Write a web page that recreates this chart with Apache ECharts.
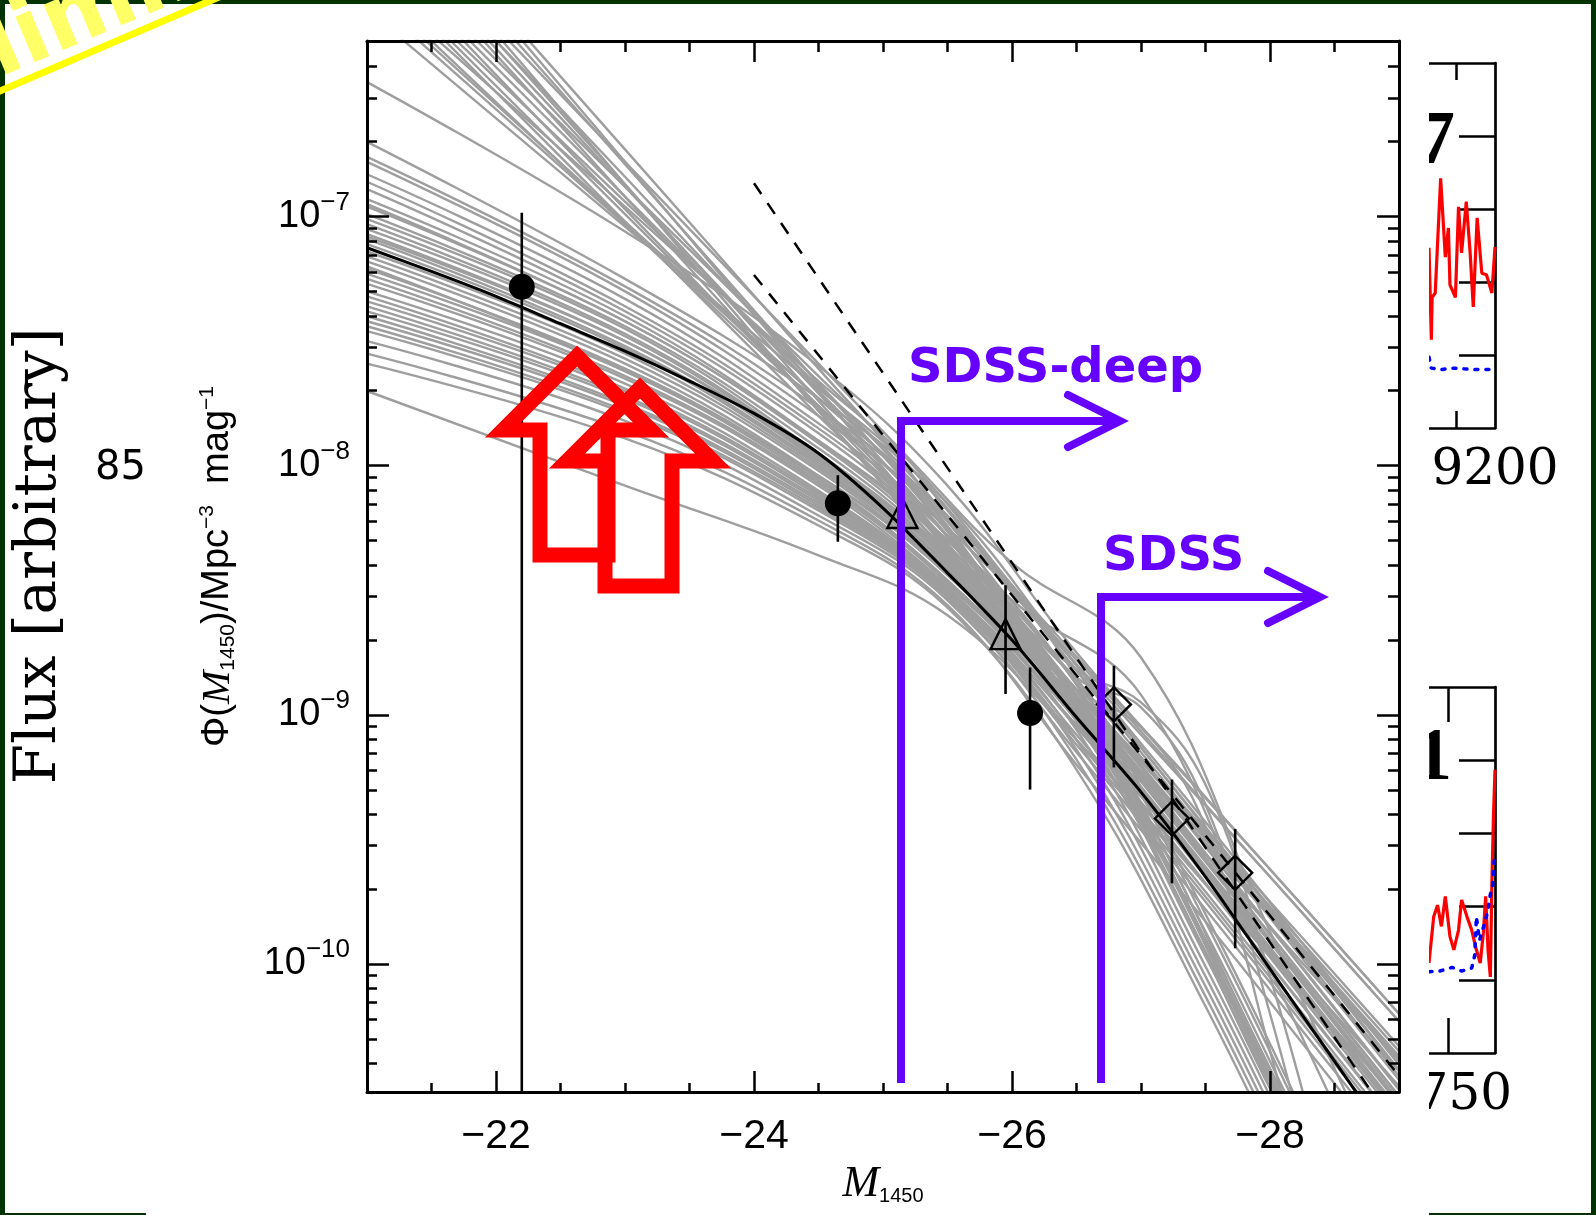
<!DOCTYPE html>
<html><head><meta charset="utf-8">
<script src="https://cdn.jsdelivr.net/npm/echarts@6/dist/echarts.min.js"></script>
<style>html,body{margin:0;padding:0;background:#fff}#c{width:1596px;height:1215px}</style>
</head><body><div id="c"></div>
<script>
// ---------------- DATA (y values are log10 of Phi) ----------------
const X_MIN = -29, X_MAX = -21;
const Y_MIN = -10.514, Y_MAX = -6.295;
const xMajorTicks = [-28, -26, -24, -22];
const xMinorTicks = [-28.5, -27.5, -27, -26.5, -25.5, -25, -24.5, -23.5, -23, -22.5, -21.5];
const yMajorTicks = [-10, -9, -8, -7];

// best fit (solid black)
const bestFitMag = [-21, -21.5, -22, -22.5, -23, -23.5, -24, -24.5, -25, -25.5, -26, -26.5, -27, -27.5, -28, -28.5, -29];
const bestFitLogPhi = [-7.125, -7.22, -7.32, -7.43, -7.54, -7.66, -7.79, -7.95, -8.17, -8.43, -8.70, -9.01, -9.31, -9.65, -10.02, -10.39, -10.76];

// dashed lines
const dashedMag = [-24.0, -29.0];
const dashedSteepLogPhi = [-6.866, -10.676];
const dashedShallowLogPhi = [-7.234, -10.449];

// grey model curves: steep faint-end family
const upperMagGrid = [-21, -23, -24.5, -25.2, -26, -27, -28, -29];
const upperCurves = [
  [-6.17, -7.04, -7.69, -8.00, -8.48, -9.05, -9.62, -10.20],
  [-6.11, -7.03, -7.73, -8.05, -8.55, -9.20, -9.85, -10.50],
  [-6.05, -7.03, -7.76, -8.10, -8.65, -9.45, -10.50, -11.50],
  [-6.04, -6.96, -7.66, -7.98, -8.48, -9.13, -9.78, -10.43],
  [-5.96, -6.99, -7.76, -8.12, -8.54, -8.92, -10.02, -11.12],
  [-5.95, -6.94, -7.68, -8.03, -8.51, -9.08, -9.65, -10.23],
  [-5.89, -6.97, -7.77, -8.15, -8.65, -9.30, -9.95, -10.60],
  [-5.88, -6.92, -7.70, -8.07, -8.62, -9.42, -10.47, -11.47],
  [-5.86, -6.88, -7.64, -8.00, -8.50, -9.15, -9.80, -10.45],
  [-5.78, -6.92, -7.78, -8.18, -8.66, -9.23, -9.80, -10.38],
  [-5.77, -6.88, -7.71, -8.10, -8.60, -9.25, -9.90, -10.55],
  [-5.75, -6.84, -7.67, -8.05, -8.60, -9.40, -10.45, -11.45],
  [-5.66, -6.87, -7.78, -8.20, -8.70, -9.35, -10.00, -10.65],
  [-5.70, -6.78, -7.59, -7.97, -8.39, -8.77, -9.87, -10.97],
  [-5.62, -6.79, -7.67, -8.08, -8.58, -9.23, -9.88, -10.53],
  [-5.56, -6.78, -7.70, -8.13, -8.61, -9.18, -9.75, -10.33],
  [-5.56, -6.73, -7.61, -8.02, -8.57, -9.37, -10.42, -11.42],
  [-5.98, -7.02, -7.80, -8.16, -8.66, -9.31, -9.96, -10.61],
  [-6.08, -7.02, -7.73, -8.06, -8.61, -9.41, -10.46, -11.46],
  [-5.72, -6.87, -7.74, -8.14, -8.64, -9.29, -9.94, -10.59]
];
// grey model curves: shallow faint-end family (start on the left edge)
const lowerMagGrid = [-21, -23, -24.5, -25.5, -26.5, -27.5, -28.5, -29.5];
const lowerCurves = [
  [-6.46, -7.06, -7.60, -8.08, -8.75, -9.33, -9.91, -10.49],
  [-6.70, -7.25, -7.73, -8.15, -8.80, -9.43, -10.08, -10.73],
  [-6.76, -7.28, -7.77, -8.20, -8.85, -9.80, -10.85, -11.85],
  [-6.78, -7.30, -7.80, -8.22, -8.82, -9.45, -10.10, -10.75],
  [-6.83, -7.33, -7.83, -8.25, -8.78, -9.36, -9.94, -10.52],
  [-6.86, -7.36, -7.85, -8.28, -8.88, -9.83, -10.88, -11.88],
  [-6.89, -7.38, -7.87, -8.30, -8.86, -9.49, -10.14, -10.79],
  [-6.93, -7.40, -7.90, -8.32, -8.90, -9.53, -10.18, -10.83],
  [-6.96, -7.42, -7.91, -8.34, -8.92, -9.87, -10.92, -11.92],
  [-6.99, -7.44, -7.93, -8.35, -8.90, -9.48, -10.06, -10.64],
  [-7.01, -7.45, -7.95, -8.36, -8.93, -9.56, -10.21, -10.86],
  [-7.03, -7.47, -7.96, -8.37, -8.95, -9.90, -10.95, -11.95],
  [-7.05, -7.48, -7.97, -8.38, -8.95, -9.58, -10.23, -10.88],
  [-7.07, -7.50, -7.98, -8.39, -8.92, -9.50, -10.08, -10.66],
  [-7.09, -7.52, -7.99, -8.40, -8.97, -9.92, -10.97, -11.97],
  [-7.11, -7.53, -8.00, -8.41, -8.96, -9.59, -10.24, -10.89],
  [-7.14, -7.55, -8.01, -8.42, -8.98, -9.61, -10.26, -10.91],
  [-7.16, -7.57, -8.02, -8.43, -8.94, -9.52, -10.10, -10.68],
  [-7.18, -7.59, -8.04, -8.44, -9.00, -9.95, -11.00, -12.00],
  [-7.21, -7.61, -8.05, -8.46, -9.00, -9.63, -10.28, -10.93],
  [-7.23, -7.62, -8.06, -8.46, -9.02, -9.97, -11.02, -12.02],
  [-7.25, -7.64, -8.07, -8.47, -9.02, -9.65, -10.30, -10.95],
  [-7.27, -7.65, -8.08, -8.48, -8.98, -9.56, -10.14, -10.72],
  [-7.30, -7.67, -8.10, -8.49, -9.05, -9.68, -10.33, -10.98],
  [-7.32, -7.69, -8.11, -8.49, -9.06, -10.01, -11.06, -12.06],
  [-7.34, -7.70, -8.12, -8.50, -9.08, -9.71, -10.36, -11.01],
  [-7.36, -7.72, -8.13, -8.50, -9.04, -9.62, -10.20, -10.78],
  [-7.38, -7.73, -8.14, -8.51, -9.10, -10.05, -11.10, -12.10],
  [-7.40, -7.75, -8.15, -8.51, -9.10, -9.73, -10.38, -11.03],
  [-7.42, -7.76, -8.16, -8.52, -9.12, -9.75, -10.40, -11.05],
  [-7.44, -7.78, -8.17, -8.52, -9.14, -10.09, -11.14, -12.14],
  [-7.46, -7.79, -8.18, -8.53, -9.15, -9.78, -10.43, -11.08],
  [-7.50, -7.82, -8.20, -8.54, -9.18, -10.13, -11.18, -12.18],
  [-7.55, -7.86, -8.22, -8.56, -9.20, -9.83, -10.48, -11.13],
  [-7.59, -7.89, -8.24, -8.57, -9.22, -10.17, -11.22, -12.22],
  [-7.70, -8.08, -8.36, -8.60, -9.10, -9.68, -10.26, -10.84]
];
// grey curves with a late bright-end break
const bumpMagGrid = [-21, -23, -24.5, -25.5, -26.5, -27, -27.5, -28, -28.5];
const bumpCurves = [
  [-6.95, -7.42, -7.90, -8.30, -8.85, -8.97, -9.36, -10.20, -11.20],
  [-7.20, -7.62, -8.04, -8.42, -8.90, -9.05, -9.45, -10.35, -11.30],
  [-7.08, -7.50, -7.97, -8.36, -8.82, -8.95, -9.28, -10.05, -11.00]
];

// data points
const circleMag = [-22.2, -24.65, -26.14];
const circleLogPhi = [-7.282, -8.151, -8.993];
const circleErrLow = [-11.0, -8.305, -9.30];
const circleErrHigh = [-6.984, -8.038, -8.81];
const triangleMag = [-25.15, -25.95];
const triangleLogPhi = [-8.19, -8.676];
const triangleErrMag = [-25.95];
const triangleErrLow = [-8.916];
const triangleErrHigh = [-8.48];
const diamondMag = [-26.79, -27.24, -27.73];
const diamondLogPhi = [-8.958, -9.416, -9.634];
const diamondErrLow = [-9.211, -9.676, -9.937];
const diamondErrHigh = [-8.803, -9.26, -9.458];

// background spectra panels (partly hidden)
const panel1Wave = [9115, 9118, 9119, 9123, 9130, 9136, 9140, 9142, 9149, 9153, 9157, 9163, 9168, 9172, 9177, 9183, 9189, 9196, 9200];
const panel1Flux = [2.47, 1.21, 1.79, 1.85, 3.42, 2.34, 2.74, 1.96, 1.79, 3.03, 2.40, 3.10, 2.40, 1.66, 2.88, 2.12, 2.10, 1.85, 2.48];
const panel1ModelWave = [9115, 9118, 9130, 9145, 9160, 9175, 9190, 9200];
const panel1Model = [0.97, 0.82, 0.80, 0.82, 0.81, 0.80, 0.80, 0.81];
const panel2Wave = [8725, 8731, 8736, 8741, 8746, 8752, 8757, 8763, 8767, 8774, 8780, 8786, 8791, 8795, 8798, 8801, 8804, 8806, 8808, 8810];
const panel2Flux = [1.23, 1.86, 2.02, 1.73, 2.14, 1.59, 1.41, 1.68, 2.09, 1.86, 1.68, 1.41, 1.23, 1.64, 2.14, 1.41, 1.04, 2.32, 3.23, 3.87];
const panel2ModelWave = [8725, 8739, 8755, 8767, 8780, 8784, 8786, 8790, 8793, 8797, 8801, 8803, 8807, 8808, 8809];
const panel2Model = [1.11, 1.12, 1.17, 1.12, 1.16, 1.34, 1.86, 1.54, 1.64, 1.79, 1.95, 2.12, 2.30, 2.48, 2.64];
const panel1TickWave = [9150], panel1LabelWave = [9200];
const panel2TickWave = [8750], panel2LabelWave = [8750];
const panelFluxTicks = [1, 2, 3, 4];

// ---------------- CHART ----------------
const yMinorTicks = [];
for (let n = -11; n <= -7; n++) for (let k = 2; k <= 9; k++) {
  const v = n + Math.log10(k);
  if (v > Y_MIN && v < Y_MAX - 0.02) yMinorTicks.push(v);
}
const SANS = 'Liberation Sans';
const zip = (xs, ys) => xs.map((x, i) => [x, ys[i]]);

function mainX(pos, ticks, len, labels) {
  return {
    gridIndex: 0, type: 'value', min: X_MIN, max: X_MAX, inverse: true, position: pos, z: 5,
    axisLine: { show: labels !== null, onZero: false, lineStyle: { color: '#000', width: 3 } },
    splitLine: { show: false },
    axisTick: { inside: true, length: len, customValues: ticks, lineStyle: { color: '#000', width: 2.5 } },
    axisLabel: labels ? labels : { show: false }
  };
}
function mainY(pos, ticks, len, labels) {
  return {
    gridIndex: 0, type: 'value', min: Y_MIN, max: Y_MAX, position: pos, z: 5,
    axisLine: { show: labels !== null, onZero: false, lineStyle: { color: '#000', width: 3 } },
    splitLine: { show: false },
    axisTick: { inside: true, length: len, customValues: ticks, lineStyle: { color: '#000', width: 2.5 } },
    axisLabel: labels ? labels : { show: false }
  };
}
const xLabels = {
  customValues: xMajorTicks, formatter: v => '\u2212' + Math.abs(v),
  fontFamily: SANS, fontSize: 41, color: '#000', margin: 24
};
const yLabels = {
  customValues: yMajorTicks, margin: 17, padding: [0, 0, 8, 0],
  formatter: v => '{b|10}{s|\u2212' + Math.abs(v) + '}',
  rich: {
    b: { fontFamily: SANS, fontSize: 38, lineHeight: 46, color: '#000', verticalAlign: 'bottom' },
    s: { fontFamily: SANS, fontSize: 26, lineHeight: 26, color: '#000', verticalAlign: 'top' }
  }
};

const xAxes = [
  Object.assign(mainX('bottom', xMajorTicks, 21, xLabels), {
    name: '{m|M}{s|1450}', nameLocation: 'middle', nameGap: 70,
    nameTextStyle: { rich: {
      m: { fontFamily: 'Liberation Serif', fontStyle: 'italic', fontSize: 44, lineHeight: 44, color: '#000' },
      s: { fontFamily: SANS, fontSize: 20, lineHeight: 20, verticalAlign: 'bottom', color: '#000' } } }
  }),
  mainX('bottom', xMinorTicks, 9, null),
  mainX('top', xMajorTicks, 21, false),
  mainX('top', xMinorTicks, 11, null)
];
xAxes[2].axisLine.show = true;
const yAxes = [
  Object.assign(mainY('left', yMajorTicks, 22, yLabels), {
    name: '{t|\u03A6(}{i|M}{sub|1450}{t|)/Mpc}{sup|\u22123}{t|  mag}{sup|\u22121}',
    nameLocation: 'middle', nameRotate: 90, nameGap: 128,
    nameTextStyle: { rich: {
      t: { fontFamily: SANS, fontSize: 38, lineHeight: 42, color: '#000' },
      i: { fontFamily: 'Liberation Serif', fontStyle: 'italic', fontSize: 40, lineHeight: 42, color: '#000' },
      sub: { fontFamily: SANS, fontSize: 21, lineHeight: 21, verticalAlign: 'bottom', color: '#000' },
      sup: { fontFamily: SANS, fontSize: 21, lineHeight: 21, verticalAlign: 'top', color: '#000' } } }
  }),
  mainY('left', yMinorTicks, 10, null),
  mainY('right', yMajorTicks, 22, false),
  mainY('right', yMinorTicks, 11, null)
];
yAxes[2].axisLine.show = true;

function panelX(grid, pos, min, max, ticks, len, labels) {
  return {
    gridIndex: grid, type: 'value', min: min, max: max, position: pos, z: 1,
    axisLine: { show: true, onZero: false, lineStyle: { color: '#000', width: 2.7 } },
    splitLine: { show: false },
    axisTick: { inside: true, length: len, customValues: ticks, lineStyle: { color: '#000', width: 2.5 } },
    axisLabel: labels ? { customValues: labels, formatter: v => String(v), fontFamily: 'DejaVu Serif', fontSize: 50, color: '#000', margin: 18 } : { show: false }
  };
}
function panelY(grid) {
  return {
    gridIndex: grid, type: 'value', min: 0, max: 5, position: 'right', z: 1,
    axisLine: { show: true, onZero: false, lineStyle: { color: '#000', width: 2.7 } },
    splitLine: { show: false },
    axisTick: { inside: true, length: 36, customValues: panelFluxTicks, lineStyle: { color: '#000', width: 2.5 } },
    axisLabel: { show: false }
  };
}
xAxes.push(panelX(1, 'bottom', 9115, 9200, panel1TickWave, 17, panel1LabelWave)); // 4
xAxes.push(panelX(1, 'top', 9115, 9200, panel1TickWave, 17, null));              // 5
xAxes.push(panelX(2, 'bottom', 8725, 8810, panel2TickWave, 35, panel2LabelWave)); // 6
xAxes.push(panelX(2, 'top', 8725, 8810, panel2TickWave, 35, null));               // 7
yAxes.push(panelY(1)); // 4
yAxes.push(panelY(2)); // 5

const series = [];
const grey = { color: '#9e9e9e', width: 2.4 };
function addGrey(grid, curves) {
  curves.forEach(c => series.push({
    type: 'line', xAxisIndex: 0, yAxisIndex: 0, z: 3, silent: true, symbol: 'none', smooth: 0.4,
    lineStyle: grey, data: zip(grid, c)
  }));
}
addGrey(lowerMagGrid, lowerCurves);
addGrey(upperMagGrid, upperCurves);
addGrey(bumpMagGrid, bumpCurves);
series.push({ type: 'line', xAxisIndex: 0, yAxisIndex: 0, z: 4, symbol: 'none',
  lineStyle: { color: '#000', width: 2.5, type: [13, 11] }, data: zip(dashedMag, dashedSteepLogPhi) });
series.push({ type: 'line', xAxisIndex: 0, yAxisIndex: 0, z: 4, symbol: 'none',
  lineStyle: { color: '#000', width: 2.5, type: [13, 11] }, data: zip(dashedMag, dashedShallowLogPhi) });
series.push({ type: 'line', xAxisIndex: 0, yAxisIndex: 0, z: 5, symbol: 'none', smooth: 0.3,
  lineStyle: { color: '#000', width: 3 }, data: zip(bestFitMag, bestFitLogPhi) });

const errData = [];
circleMag.forEach((m, i) => errData.push([m, circleErrLow[i], circleErrHigh[i]]));
triangleErrMag.forEach((m, i) => errData.push([m, triangleErrLow[i], triangleErrHigh[i]]));
diamondMag.forEach((m, i) => errData.push([m, diamondErrLow[i], diamondErrHigh[i]]));
series.push({
  type: 'custom', xAxisIndex: 0, yAxisIndex: 0, z: 6, clip: true, silent: true, data: errData,
  renderItem: (params, api) => {
    const a = api.coord([api.value(0), api.value(1)]);
    const b = api.coord([api.value(0), api.value(2)]);
    return { type: 'line', shape: { x1: a[0], y1: a[1], x2: b[0], y2: b[1] }, style: { stroke: '#000', lineWidth: 2.6 } };
  }
});
series.push({ type: 'scatter', xAxisIndex: 0, yAxisIndex: 0, z: 7, symbol: 'circle', symbolSize: 26,
  itemStyle: { color: '#000', opacity: 1 }, data: zip(circleMag, circleLogPhi) });
series.push({ type: 'scatter', xAxisIndex: 0, yAxisIndex: 0, z: 7, symbol: 'triangle', symbolSize: 30,
  itemStyle: { color: 'rgba(0,0,0,0)', borderColor: '#000', borderWidth: 2.4, opacity: 1 }, data: zip(triangleMag, triangleLogPhi) });
series.push({ type: 'scatter', xAxisIndex: 0, yAxisIndex: 0, z: 7, symbol: 'diamond', symbolSize: 34,
  itemStyle: { color: 'rgba(0,0,0,0)', borderColor: '#000', borderWidth: 2.4, opacity: 1 }, data: zip(diamondMag, diamondLogPhi) });

// panels
series.push({ type: 'line', xAxisIndex: 4, yAxisIndex: 4, z: 1, symbol: 'none',
  lineStyle: { color: '#ff0000', width: 3.2 }, data: zip(panel1Wave, panel1Flux) });
series.push({ type: 'line', xAxisIndex: 4, yAxisIndex: 4, z: 1, symbol: 'none',
  lineStyle: { color: '#0000ff', width: 3.5, type: [3, 8], cap: 'round' }, data: zip(panel1ModelWave, panel1Model) });
series.push({ type: 'line', xAxisIndex: 6, yAxisIndex: 5, z: 1, symbol: 'none',
  lineStyle: { color: '#ff0000', width: 3.2 }, data: zip(panel2Wave, panel2Flux) });
series.push({ type: 'line', xAxisIndex: 6, yAxisIndex: 5, z: 1, symbol: 'none',
  lineStyle: { color: '#0000ff', width: 3.5, type: [3, 8], cap: 'round' }, data: zip(panel2ModelWave, panel2Model) });

// ---------------- GRAPHIC DECORATION ----------------
const GREEN = '#003300', PURPLE = '#6600ff', RED = '#ff0000';
function txt(text, x, y, font, fill, align, valign, rot, z) {
  return { type: 'text', x: x, y: y, rotation: rot || 0, z: z, silent: true,
    style: { text: text, font: font, fill: fill, align: align, textAlign: align, verticalAlign: valign, textVerticalAlign: valign } };
}
const graphics = [
  { type: 'rect', z: 1, silent: true, shape: { x: 0, y: 0, width: 1596, height: 4 }, style: { fill: GREEN } },
  { type: 'rect', z: 1, silent: true, shape: { x: 0, y: 0, width: 5, height: 1215 }, style: { fill: GREEN } },
  { type: 'rect', z: 1, silent: true, shape: { x: 1591, y: 0, width: 5, height: 1215 }, style: { fill: GREEN } },
  { type: 'rect', z: 1, silent: true, shape: { x: 0, y: 1213, width: 1596, height: 2 }, style: { fill: GREEN } },
  txt('Flux [arbitrary]', 40, 556, '58px "DejaVu Serif"', '#000', 'center', 'middle', Math.PI / 2, 1),
  txt('8500', 95, 469, '40px "DejaVu Sans"', '#000', 'left', 'middle', 0, 1),
  txt('7', 1455, 143, 'bold 76px "Liberation Serif"', '#000', 'right', 'middle', 0, 1),
  txt('1', 1452, 760, 'bold 74px "Liberation Serif"', '#000', 'right', 'middle', 0, 1),
  // white cover of the pasted chart picture
  { type: 'rect', z: 2, silent: true, shape: { x: 146, y: 4, width: 1283, height: 1211 }, style: { fill: '#fff' } },
  // red outlined arrows
  { type: 'polygon', z: 20, silent: true,
    shape: { points: [[577, 356], [651, 430], [608, 430], [608, 555], [540, 555], [540, 430], [503, 430]] },
    style: { fill: 'none', stroke: RED, lineWidth: 15, lineJoin: 'miter' } },
  { type: 'polygon', z: 20, silent: true,
    shape: { points: [[640, 388], [713, 461], [672, 461], [672, 586], [605, 586], [605, 461], [567, 461]] },
    style: { fill: 'none', stroke: RED, lineWidth: 15, lineJoin: 'miter' } },
  // purple SDSS limits
  { type: 'polyline', z: 21, silent: true, shape: { points: [[901, 1083], [901, 421], [1118, 421]] },
    style: { stroke: PURPLE, lineWidth: 8, fill: 'none' } },
  { type: 'polyline', z: 21, silent: true, shape: { points: [[1068, 395], [1120, 421], [1068, 447]] },
    style: { stroke: PURPLE, lineWidth: 8, fill: 'none', lineCap: 'round', lineJoin: 'miter' } },
  { type: 'polyline', z: 21, silent: true, shape: { points: [[1101, 1083], [1101, 597], [1318, 597]] },
    style: { stroke: PURPLE, lineWidth: 8, fill: 'none' } },
  { type: 'polyline', z: 21, silent: true, shape: { points: [[1268, 571], [1320, 597], [1268, 623]] },
    style: { stroke: PURPLE, lineWidth: 8, fill: 'none', lineCap: 'round', lineJoin: 'miter' } },
  txt('SDSS-deep', 908, 370, 'bold 48px "DejaVu Sans"', PURPLE, 'left', 'middle', 0, 21),
  txt('SDSS', 1103, 558, 'bold 48px "DejaVu Sans"', PURPLE, 'left', 'middle', 0, 21),
  // yellow corner banner
  { type: 'line', z: 30, silent: true, shape: { x1: -10, y1: 95.3, x2: 232, y2: -8.6 }, style: { stroke: '#ffff00', lineWidth: 7 } },
  txt('Preliminary', -150, 164, 'bold 90px "DejaVu Sans"', '#ffff66', 'left', 'bottom', 23 * Math.PI / 180, 30)
];

const chart = echarts.init(document.getElementById('c'), null, { renderer: 'canvas', width: 1596, height: 1215 });
chart.setOption({
  animation: false,
  backgroundColor: '#ffffff',
  grid: [
    { left: 367, top: 41, width: 1032, height: 1051, outerBoundsMode: 'none' },
    { left: 1429, top: 63, width: 66, height: 365, outerBoundsMode: 'none' },
    { left: 1429, top: 687, width: 66, height: 366, outerBoundsMode: 'none' }
  ],
  xAxis: xAxes,
  yAxis: yAxes,
  series: series,
  graphic: { elements: graphics }
});
</script></body></html>
